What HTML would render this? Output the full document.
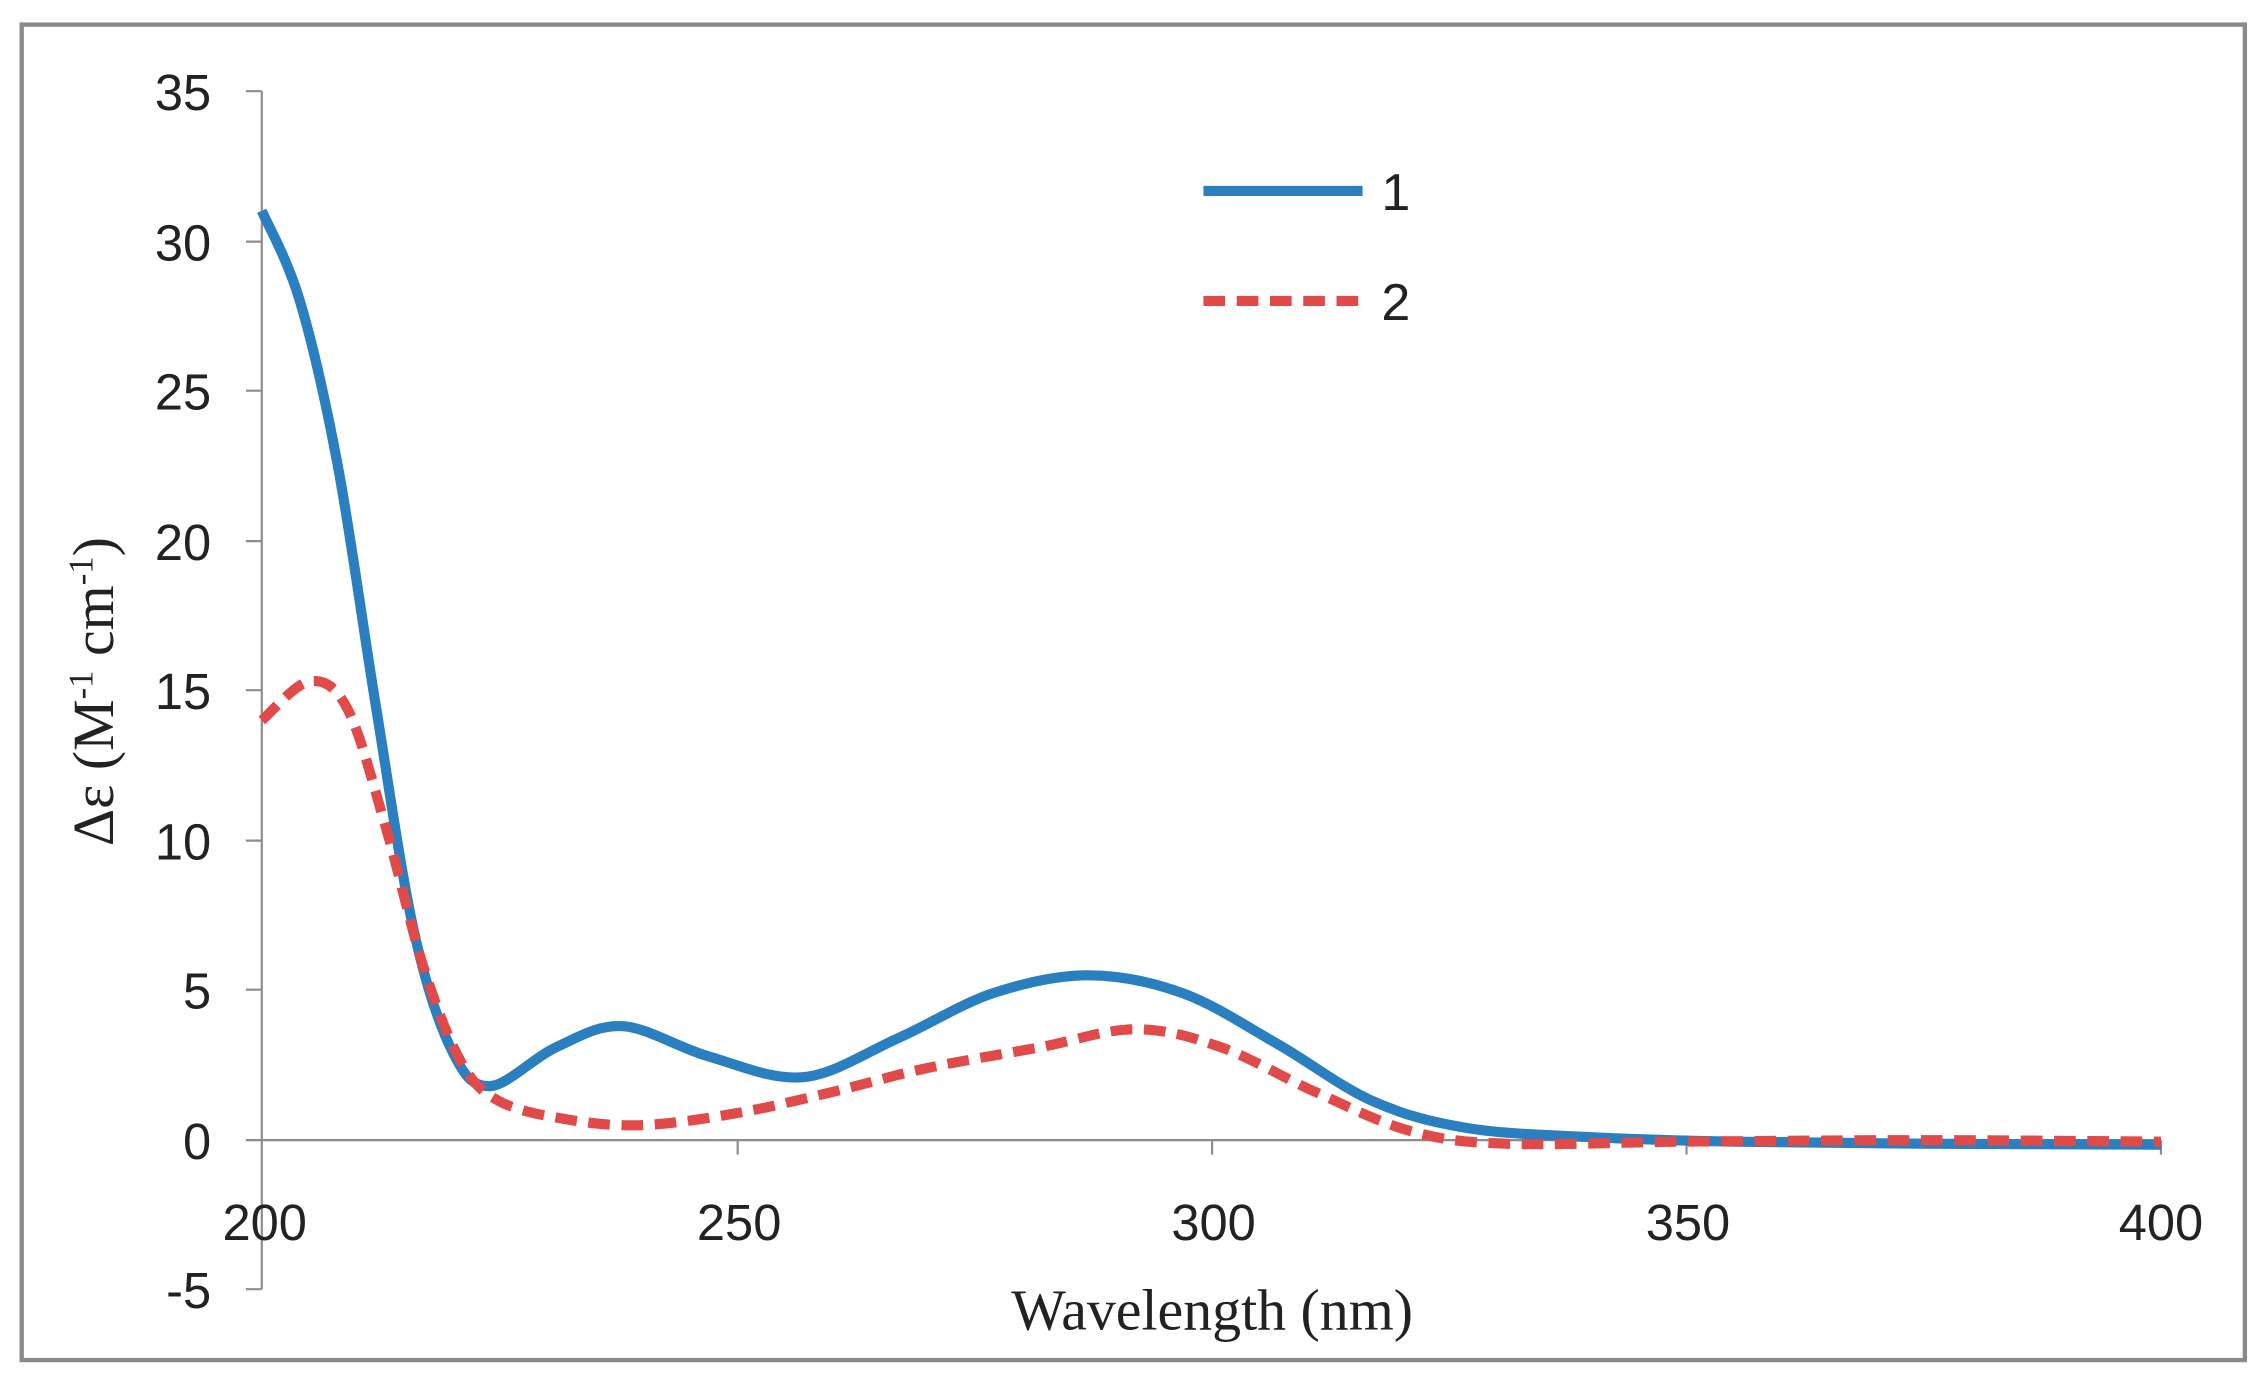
<!DOCTYPE html>
<html><head><meta charset="utf-8"><style>html,body{margin:0;padding:0;background:#fff}svg{display:block}</style></head>
<body>
<svg id="s" width="2268" height="1389" viewBox="0 0 1568 960" preserveAspectRatio="none" xmlns="http://www.w3.org/2000/svg">
<rect x="15" y="17" width="1537" height="923" fill="#fff" stroke="#8a8a8a" stroke-width="3"/>
<g stroke="#8c8c8c" stroke-width="1.5">
<line x1="181" y1="63" x2="181" y2="891"/>
<line x1="181" y1="788" x2="1494" y2="788"/>
<line x1="170" y1="63" x2="181" y2="63"/><line x1="170" y1="167" x2="181" y2="167"/><line x1="170" y1="270" x2="181" y2="270"/><line x1="170" y1="374" x2="181" y2="374"/><line x1="170" y1="477" x2="181" y2="477"/><line x1="170" y1="581" x2="181" y2="581"/><line x1="170" y1="684" x2="181" y2="684"/><line x1="170" y1="788" x2="181" y2="788"/><line x1="170" y1="891" x2="181" y2="891"/>
<line x1="510" y1="788" x2="510" y2="798"/><line x1="838" y1="788" x2="838" y2="798"/><line x1="1166" y1="788" x2="1166" y2="798"/><line x1="1494" y1="788" x2="1494" y2="798"/>
</g>
<g font-family="Liberation Sans, sans-serif" font-size="35" fill="#222" text-anchor="end">
<text x="146" y="76">35</text><text x="146" y="180">30</text><text x="146" y="283">25</text><text x="146" y="387">20</text><text x="146" y="490">15</text><text x="146" y="594">10</text><text x="146" y="697">5</text><text x="146" y="801">0</text><text x="146" y="904">-5</text>
</g>
<g font-family="Liberation Sans, sans-serif" font-size="35" fill="#222" text-anchor="middle">
<text x="183" y="857">200</text><text x="511" y="857">250</text><text x="839" y="857">300</text><text x="1167" y="857">350</text><text x="1494" y="857">400</text>
</g>
<text x="838" y="919" font-family="Liberation Serif, serif" font-size="40" text-anchor="middle" fill="#222">Wavelength  (nm)</text>
<text transform="translate(78,478) rotate(-90)" font-family="Liberation Serif, serif" font-size="40" text-anchor="middle" fill="#222">Δε (M<tspan font-size="24" dy="-14">-1</tspan><tspan dy="14"> cm</tspan><tspan font-size="24" dy="-14">-1</tspan><tspan dy="14">)</tspan></text>
<line x1="832" y1="132" x2="942" y2="132" stroke="#2a7fc1" stroke-width="7"/>
<line x1="832" y1="208" x2="942" y2="208" stroke="#e04a48" stroke-width="7" stroke-dasharray="15 8"/>
<text x="955" y="145" font-family="Liberation Sans, sans-serif" font-size="36" fill="#222">1</text>
<text x="955" y="221" font-family="Liberation Sans, sans-serif" font-size="36" fill="#222">2</text>
<path id="b" fill="none" stroke="#2a7fc1" stroke-width="7"/>
<path id="r" fill="none" stroke="#e04a48" stroke-width="7" stroke-dasharray="15 8"/>
</svg>
<script>
function P(d){var p=d.map(a=>[181+(a[0]-200)*6.565,788-a[1]*20.72]);var s="M"+p[0][0]+","+p[0][1];
for(var i=0;i<p.length-1;i++){var p0=p[i-1]||p[i],p1=p[i],p2=p[i+1],p3=p[i+2]||p2;
s+=" C"+(p1[0]+(p2[0]-p0[0])/6)+","+(p1[1]+(p2[1]-p0[1])/6)+" "+(p2[0]-(p3[0]-p1[0])/6)+","+(p2[1]-(p3[1]-p1[1])/6)+" "+p2[0]+","+p2[1];}return s;}
document.getElementById('b').setAttribute('d',P([[200,31],[204,28],[208,22.5],[212,14.5],[216,7],[220,3],[224,1.8],[231,3.1],[238,3.8],[247,2.8],[257,2.1],[267,3.4],[277,4.9],[287,5.5],[297,4.9],[307,3.2],[317,1.3],[327,0.4],[340,0.1],[355,-0.05],[375,-0.12],[400,-0.15]]));
document.getElementById('r').setAttribute('d',P([[200,14],[205,15.3],[209,14.4],[213,10.5],[217,5.8],[221,2.6],[225,1.3],[232,0.7],[240,0.5],[250,0.9],[260,1.6],[270,2.4],[282,3.1],[292,3.7],[301,3.1],[311,1.6],[321,0.3],[331,-0.12],[350,-0.05],[375,0],[400,-0.05]]));
</script>
</body></html>
